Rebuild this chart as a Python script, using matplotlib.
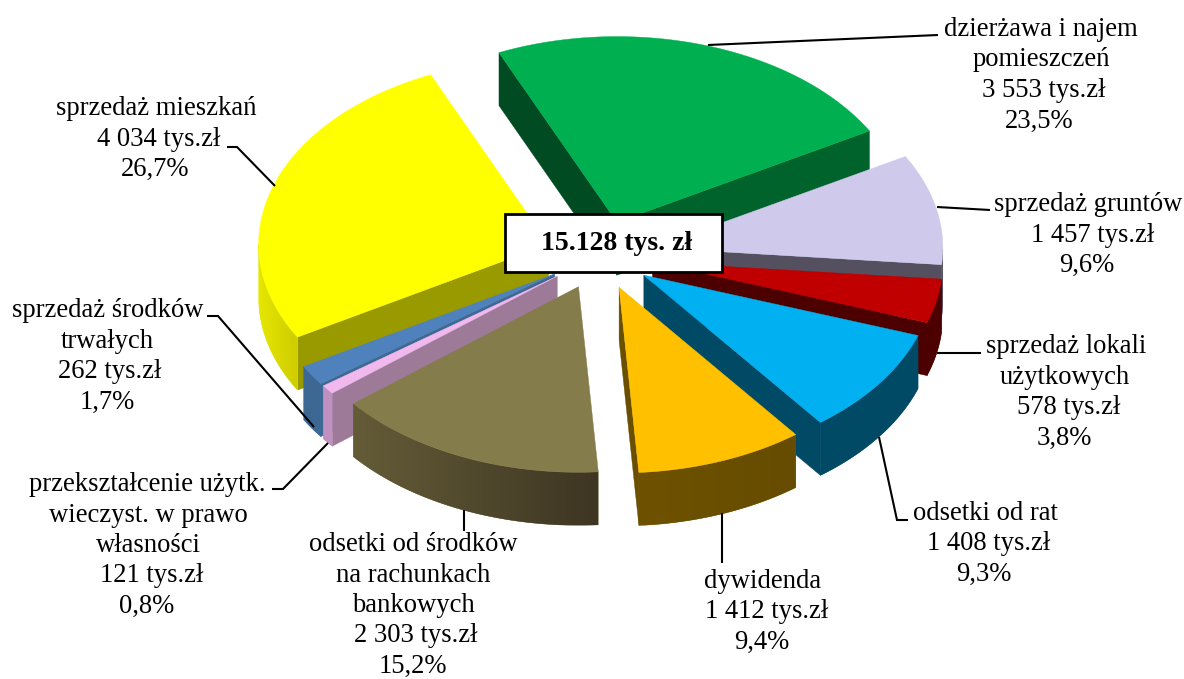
import matplotlib
matplotlib.use('Agg')
import matplotlib.pyplot as plt
from matplotlib.colors import to_rgb
from matplotlib.patches import Polygon, Rectangle
import numpy as np

plt.rcParams['font.family'] = ['Liberation Serif', 'DejaVu Serif']

# Dane
nazwy = ['dzierżawa i najem\npomieszczeń', 'sprzedaż gruntów', 'sprzedaż lokali\nużytkowych',
         'odsetki od rat', 'dywidenda', 'odsetki od środków\nna rachunkach\nbankowych',
         'przekształcenie użytk.\nwieczyst. w prawo\nwłasności', 'sprzedaż środków\ntrwałych',
         'sprzedaż mieszkań']
wartosci = [3553, 1457, 578, 1408, 1412, 2303, 121, 262, 4034]
procenty = ['23,5', '9,6', '3,8', '9,3', '9,4', '15,2', '0,8', '1,7', '26,7']
razem = '15.128 tys. zł'

# Kolory: wierzch, sciana boczna, luk lewy, luk prawy
wierzch = ['#00B050', '#CFCAEC', '#C00000', '#00B0F0', '#FFC000', '#857C4B', '#F0B8EC', '#4F81BD', '#FFFF00']
sciana_start = ['#004B22', '#545060', '#4D0000', '#004A66', '#6B4F00', '#4A4229', '#9D7A98', '#3D6894', '#999900']
sciana_koniec = ['#00632C', '#545060', '#4D0000', '#004A66', '#6B4F00', '#4A4229', '#9D7A98', '#3D6894', '#999900']
luk_lewy = ['#00632C', '#545060', '#4D0000', '#004A66', '#6E5200', '#645C37', '#C091C0', '#3D6894', '#E6E600']
luk_prawy = ['#00632C', '#545060', '#4D0000', '#004A66', '#664C00', '#3E3523', '#C091C0', '#3D6894', '#CFCC00']
kolejnosc = [0, 8, 1, 2, 3, 7, 6, 5, 4]

# Geometria
CX, CY = 600, 255
R = 290
K = 0.64
WYSUNIECIE = 54
GLEBOKOSC = 53
KAT_START = 114
ODSTEP = 30.5

# srodki kolejnych wierszy i linia bazowa pierwszego wiersza
srodki_x = [[1040.5, 1041, 1044, 1039], [1088, 1093, 1087], [1066, 1065, 1069, 1064],
            [985, 989, 984], [763, 767, 762], [413, 413, 413, 416, 413],
            [147, 148, 148, 152, 147], [107.5, 107, 110, 107], [156, 159, 155]]
baza_y = [36, 211, 353, 520, 588, 551, 491, 317, 115]
linie = [
    [(708, 45), (938, 35)],
    [(937, 207), (990, 210)],
    [(937, 353), (981, 353)],
    [(879, 437), (897, 520), (908, 520)],
    [(722, 513), (722, 563)],
    [(464, 510), (464, 531)],
    [(328, 443), (283, 489), (272, 489)],
    [(314, 427), (218, 316), (207, 316)],
    [(275, 186), (237, 147), (227, 147)],
]

z = 1


def punkt(x0, y0, kat, r=R):
    return x0 + r * np.cos(kat), y0 - K * r * np.sin(kat)


def dodaj(ax, wierzcholki, kolor):
    global z
    z += 1
    return ax.add_patch(Polygon(wierzcholki, fc=kolor, ec=kolor, lw=0.3, zorder=z))


def rysuj_kawalek(ax, i, kat1, kat2):
    # kat1 > kat2, idziemy zgodnie z zegarem
    global z
    srodek = (kat1 + kat2) / 2
    x0 = CX + WYSUNIECIE * np.cos(srodek)
    y0 = CY - K * WYSUNIECIE * np.sin(srodek)
    katy = np.linspace(kat1, kat2, 120)
    xs, ys = punkt(x0, y0, katy)

    # sciany promieniowe
    if np.cos(kat1) < 0:
        xe, ye = xs[0], ys[0]
        dodaj(ax, [(x0, y0), (xe, ye), (xe, ye + GLEBOKOSC), (x0, y0 + GLEBOKOSC)], sciana_start[i])
    if np.cos(kat2) > 0:
        xe, ye = xs[-1], ys[-1]
        dodaj(ax, [(x0, y0), (xe, ye), (xe, ye + GLEBOKOSC), (x0, y0 + GLEBOKOSC)], sciana_koniec[i])

    # luk z przodu, cieniowany od lewej do prawej
    maska = np.sin(katy) < 0
    if maska.sum() > 1:
        xp, yp = xs[maska], ys[maska]
        obrys = list(zip(xp, yp)) + list(zip(xp[::-1], yp[::-1] + GLEBOKOSC))
        p = dodaj(ax, obrys, luk_lewy[i])
        lewy, prawy = np.array(to_rgb(luk_lewy[i])), np.array(to_rgb(luk_prawy[i]))
        t = np.linspace(0, 1, 256)[:, None]
        gradient = (lewy + (prawy - lewy) * t)[None, :, :]
        z += 1
        im = ax.imshow(gradient, extent=(xp.min(), xp.max(), yp.max() + GLEBOKOSC, yp.min()),
                       aspect='auto', zorder=z, interpolation='bilinear')
        im.set_clip_path(p)

    # wierzch
    dodaj(ax, [(x0, y0)] + list(zip(xs, ys)), wierzch[i])


fig = plt.figure(figsize=(11.84, 6.79), dpi=100)
ax = fig.add_axes([0, 0, 1, 1])
ax.axis('off')

udzialy = np.array(wartosci) / sum(wartosci) * 2 * np.pi
granice = np.radians(KAT_START) - np.concatenate([[0], np.cumsum(udzialy)])
for i in kolejnosc:
    rysuj_kawalek(ax, i, granice[i], granice[i + 1])

ax.set_xlim(0, 1184)
ax.set_ylim(679, 0)

for odc in linie:
    ax.plot([p[0] for p in odc], [p[1] for p in odc], color='black', lw=1.5,
            solid_joinstyle='miter', solid_capstyle='butt', zorder=z + 1)

for i, nazwa in enumerate(nazwy):
    wartosc = f'{wartosci[i]:,}'.replace(',', ' ')
    wiersze = f'{nazwa}\n{wartosc} tys.zł\n{procenty[i]}%'.split('\n')
    for j, wiersz in enumerate(wiersze):
        ax.text(srodki_x[i][j], baza_y[i] + j * ODSTEP, wiersz, ha='center', va='baseline',
                fontsize=19.2, color='black', zorder=z + 2)

ax.add_patch(Rectangle((505, 214), 217, 58, fc='white', ec='black', lw=2, zorder=z + 3))
ax.text(617, 243, razem, ha='center', va='center', fontsize=20, fontweight='bold', zorder=z + 4)

fig.savefig('out.png', dpi=100)
